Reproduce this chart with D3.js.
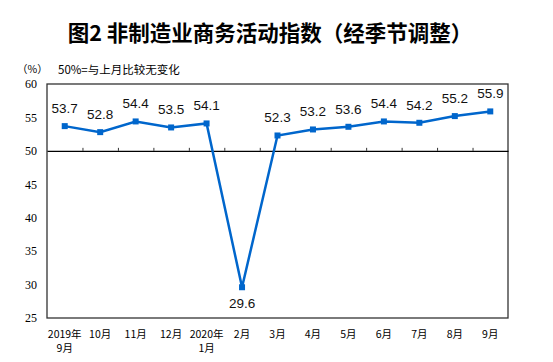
<!DOCTYPE html>
<html>
<head>
<meta charset="utf-8">
<script src="https://cdn.jsdelivr.net/npm/d3@7"></script>
<style>
  body { margin: 0; background: #fff; }
</style>
</head>
<body>
<svg id="chart" width="553" height="362"></svg>
<script>
const months = ['2019年\n9月', '10月', '11月', '12月', '2020年\n1月', '2月', '3月', '4月', '5月', '6月', '7月', '8月', '9月']
const values = [53.7, 52.8, 54.4, 53.5, 54.1, 29.6, 52.3, 53.2, 53.6, 54.4, 54.2, 55.2, 55.9]
const yTicks = [25, 30, 35, 40, 45, 50, 55, 60]

const svg = d3.select('#chart')
const margin = { top: 84, right: 45, bottom: 44, left: 47 }
const width = 553 - margin.left - margin.right
const height = 362 - margin.top - margin.bottom
const cjk = '"Noto Sans CJK SC", sans-serif'
const blue = '#0066cc'

svg.append('text')
  .attr('x', 270)
  .attr('y', 41)
  .attr('text-anchor', 'middle')
  .attr('font-family', cjk)
  .attr('font-weight', 'bold')
  .attr('font-size', 21.5)
  .text('图2 非制造业商务活动指数（经季节调整）')

svg.append('text')
  .attr('x', 17)
  .attr('y', 73)
  .attr('font-family', cjk)
  .attr('font-size', 10.5)
  .text('（%）')

svg.append('text')
  .attr('x', 58)
  .attr('y', 74)
  .attr('font-family', cjk)
  .attr('font-size', 11.5)
  .text('50%=与上月比较无变化')

const g = svg.append('g').attr('transform', `translate(${margin.left},${margin.top})`)

const x = d3.scaleBand().domain(d3.range(months.length)).range([0, width])
const y = d3.scaleLinear().domain([25, 60]).range([height, 0])

// frame
g.append('rect')
  .attr('width', width)
  .attr('height', height)
  .attr('fill', 'none')
  .attr('stroke', '#333')
  .attr('stroke-width', 1.3)

// y axis
const yAxis = g.append('g')
  .call(d3.axisLeft(y).tickValues(yTicks).tickSize(0).tickPadding(10))
yAxis.select('.domain').remove()
yAxis.selectAll('text')
  .attr('font-family', '"Liberation Serif", serif')
  .attr('font-size', 12)
  .attr('fill', '#000')

// 50 baseline with upward ticks between categories
const base = g.append('g').attr('transform', `translate(0,${y(50)})`)
  .call(d3.axisTop(d3.scaleLinear().domain([0, months.length]).range([0, width]))
    .tickValues(d3.range(1, months.length)).tickSize(3).tickSizeOuter(0).tickFormat(''))
base.select('.domain').attr('stroke', '#000').attr('stroke-width', 1.2)
base.selectAll('.tick line').attr('stroke', '#333')

// x labels
const xl = g.append('g').attr('transform', `translate(0,${height})`)
xl.selectAll('text')
  .data(months)
  .join('text')
  .attr('x', (d, i) => x(i) + x.bandwidth() / 2)
  .attr('y', 20)
  .attr('text-anchor', 'middle')
  .attr('font-family', cjk)
  .attr('font-size', 10.5)
  .each(function (d) {
    const lines = d.split('\n')
    d3.select(this).selectAll('tspan')
      .data(lines)
      .join('tspan')
      .attr('x', d3.select(this).attr('x'))
      .attr('dy', (l, j) => j ? 14 : 0)
      .text(l => l)
  })

// line
const line = d3.line()
  .x((d, i) => x(i) + x.bandwidth() / 2)
  .y(d => y(d))

g.append('path')
  .datum(values)
  .attr('d', line)
  .attr('fill', 'none')
  .attr('stroke', blue)
  .attr('stroke-width', 2.5)

g.selectAll('.pt')
  .data(values)
  .join('rect')
  .attr('class', 'pt')
  .attr('x', (d, i) => x(i) + x.bandwidth() / 2 - 3)
  .attr('y', d => y(d) - 3)
  .attr('width', 6)
  .attr('height', 6)
  .attr('fill', blue)

g.selectAll('.lbl')
  .data(values)
  .join('text')
  .attr('class', 'lbl')
  .attr('x', (d, i) => x(i) + x.bandwidth() / 2)
  .attr('y', d => d < 50 ? y(d) + 21 : y(d) - 13)
  .attr('text-anchor', 'middle')
  .attr('font-family', '"Liberation Sans", Arial, sans-serif')
  .attr('font-size', 13.5)
  .attr('fill', '#111')
  .text(d => d.toFixed(1))
</script>
</body>
</html>
